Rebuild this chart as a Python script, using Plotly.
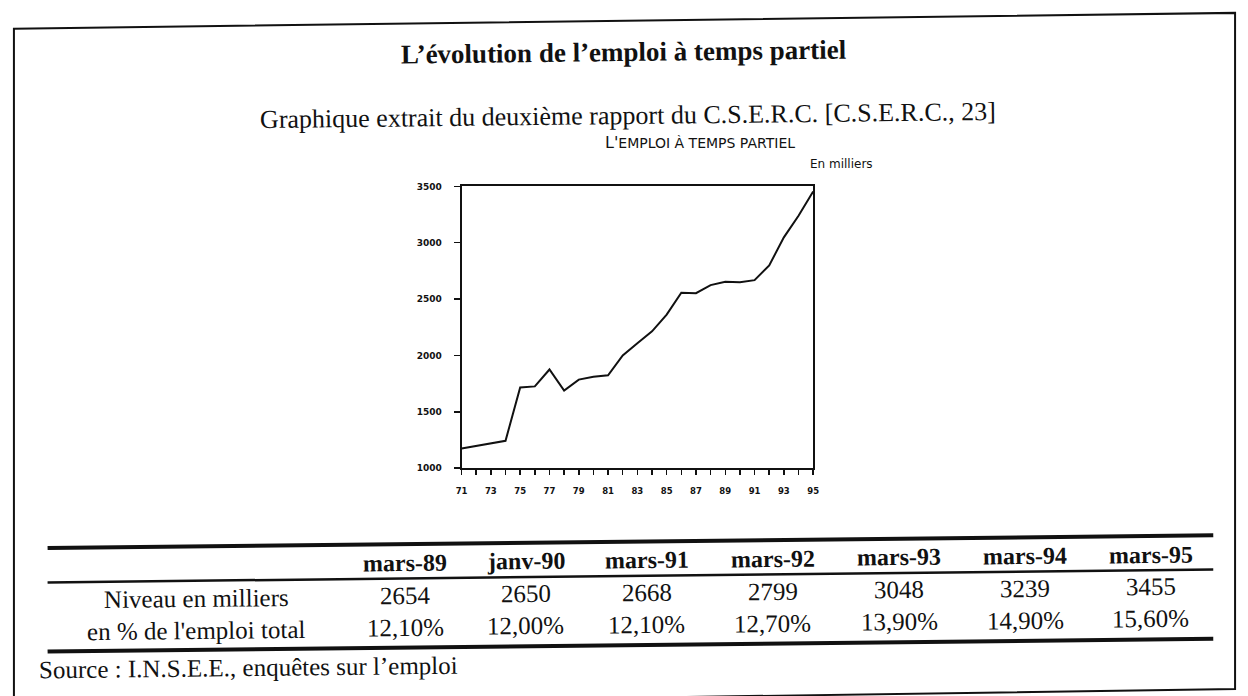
import plotly.graph_objects as go

W, H = 1248, 696

# ---------------- data ----------------
years = list(range(71, 96))
emploi_partiel = [1175, 1199, 1223, 1243, 1717, 1726, 1876, 1689, 1786, 1812,
                  1824, 2000, 2108, 2214, 2363, 2556, 2553, 2624, 2654, 2650,
                  2668, 2799, 3048, 3239, 3455]
x_tick_labels = [str(y) if y % 2 == 1 else "" for y in years]
y_ticks = [1000, 1500, 2000, 2500, 3000, 3500]

table_headers = ["mars-89", "janv-90", "mars-91", "mars-92", "mars-93", "mars-94", "mars-95"]
niveau_milliers = [2654, 2650, 2668, 2799, 3048, 3239, 3455]
pct_emploi = ["12,10%", "12,00%", "12,10%", "12,70%", "13,90%", "14,90%", "15,60%"]
row_labels = ["Niveau en milliers", "en % de l'emploi total"]

title_text = "L’évolution de l’emploi à temps partiel"
subtitle_text = "Graphique extrait du deuxième rapport du C.S.E.R.C. [C.S.E.R.C., 23]"
source_text = "Source : I.N.S.E.E., enquêtes sur l’emploi"

# ---------------- helpers (pixel -> paper) ----------------
def px(x):
    return x / W

def py(y):
    return 1 - y / H

S = 0.011          # slight scan tilt
ANG = -0.63

def ty(x, yc):
    return yc + S * (624 - x)

SERIF = "Liberation Serif"

fig = go.Figure()
fig.add_trace(go.Scatter(
    x=years, y=emploi_partiel, mode="lines",
    line=dict(color="#111", width=2), hoverinfo="skip", showlegend=False))

axis_common = dict(showline=True, mirror=True, linecolor="#111", linewidth=2,
                   showgrid=False, zeroline=False, ticks="outside",
                   tickcolor="#111", tickwidth=1.5, fixedrange=True)

fig.update_layout(
    width=W, height=H,
    margin=dict(l=0, r=0, t=0, b=0),
    paper_bgcolor="white", plot_bgcolor="white",
    showlegend=False,
    xaxis=dict(domain=[px(460), px(815)], range=[71, 95],
               tickvals=years, ticktext=x_tick_labels, ticklen=5,
               ticklabelstandoff=9,
               tickfont=dict(family="DejaVu Sans", size=8.5, color="#111", weight="bold"),
               **axis_common),
    yaxis=dict(domain=[py(470), py(184)], range=[1000, 3500],
               tickvals=y_ticks, ticktext=[str(v) for v in y_ticks], ticklen=6,
               ticklabelstandoff=10,
               tickfont=dict(family="DejaVu Sans", size=9, color="#111", weight="bold"),
               **axis_common),
)

ann = []
def add_text(text, x, y, size, family=SERIF, bold=False, xanchor="center", angle=ANG):
    ann.append(dict(text=text, x=px(x), y=py(y), xref="paper", yref="paper",
                    showarrow=False, xanchor=xanchor, yanchor="middle",
                    textangle=angle, borderpad=0,
                    font=dict(family=family, size=size, color="#111",
                              weight="bold" if bold else "normal")))

add_text(title_text, 624, 48, 27, bold=True)
add_text(subtitle_text, 628, 112, 26)
add_text("L'<span style='font-size:14px'>EMPLOI À TEMPS PARTIEL</span>", 701, 140, 16,
         family="DejaVu Sans", angle=0)
add_text("En milliers", 811, 161, 12, family="DejaVu Sans", xanchor="left", angle=0)

col_x = [403, 525, 647, 774, 902, 1029, 1156]
for cx, h, n, p in zip(col_x, table_headers, niveau_milliers, pct_emploi):
    add_text(h, cx, ty(cx, 563.5), 24, bold=True)
    add_text(str(n), cx, ty(cx, 596.2), 25)
    add_text(p, cx, ty(cx, 628.7), 25)

add_text(row_labels[0], 192, ty(192, 597.0), 25)
add_text(row_labels[1], 192, ty(192, 629.5), 25)
add_text(source_text, 32, ty(252, 667.8), 25, xanchor="left")

fig.update_layout(annotations=ann)

shapes = []
# outer frame (slightly tilted scan)
shapes.append(dict(type="path", xref="paper", yref="paper",
                   path=f"M {px(8)},{py(24)} L {px(1241)},{py(8)} L {px(1241)},{py(694)} L {px(8)},{py(712)} Z",
                   line=dict(color="#111", width=2)))
# table rules
for yc, w in [(544.6, 4), (579.4, 2.5), (649.6, 4)]:
    shapes.append(dict(type="line", xref="paper", yref="paper",
                       x0=px(42), y0=py(ty(42, yc)), x1=px(1219), y1=py(ty(1219, yc)),
                       line=dict(color="#111", width=w)))
fig.update_layout(shapes=shapes)

fig.write_html("out.html",
               config={"displayModeBar": False, "staticPlot": True},
               post_script="document.body.style.margin='0px';document.body.style.overflow='hidden';")
